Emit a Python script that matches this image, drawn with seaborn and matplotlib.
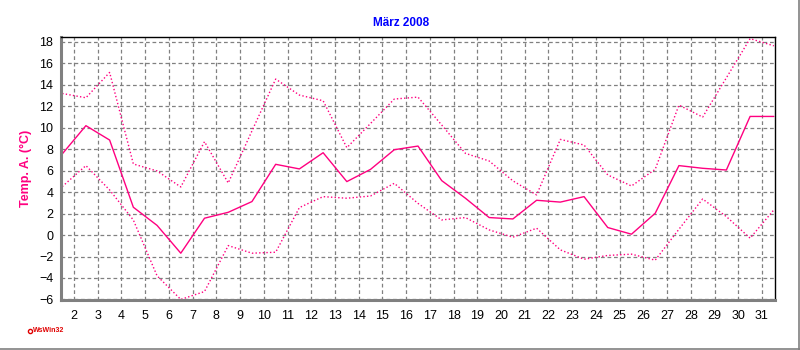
import numpy as np
import pandas as pd
import matplotlib
matplotlib.use("Agg")
import matplotlib.pyplot as plt
from matplotlib.ticker import MultipleLocator, FixedLocator
from matplotlib.lines import Line2D
import seaborn as sns

# ---- data ----
days = list(range(1, 32))
temp_max = [13.19, 12.79, 15.15, 6.62, 5.97, 4.48, 8.70, 4.85, 9.7, 14.53,
            13.04, 12.51, 8.14, 10.4, 12.67, 12.85, 10.25, 7.61, 6.9, 5.05,
            3.74, 8.91, 8.39, 5.6, 4.57, 6.12, 12.11, 10.99, 14.65, 18.3, 17.63]
temp_mean = [7.55, 10.19, 8.85, 2.59, 0.9, -1.69, 1.57, 2.12, 3.12, 6.59,
             6.16, 7.67, 4.98, 6.12, 7.95, 8.29, 5.07, 3.43, 1.63, 1.5,
             3.24, 3.07, 3.58, 0.7, 0.08, 2.03, 6.47, 6.22, 6.06, 11.05, 11.05]
temp_min = [4.51, 6.47, 4.2, 1.4, -3.8, -6.0, -5.26, -0.98, -1.69, -1.6,
            2.56, 3.58, 3.43, 3.64, 4.82, 2.95, 1.41, 1.63, 0.48, -0.2,
            0.64, -1.38, -2.25, -1.9, -1.78, -2.34, 0.54, 3.36, 1.72, -0.29, 2.34]
x_tick_days = list(range(2, 32))
title_text = "März 2008"
ylabel_text = "Temp. A. (°C)"
logo_text = "WsWin32"

sns.set_style("white")
plt.rcParams['font.family'] = ['Liberation Sans', 'DejaVu Sans']

df = pd.DataFrame({"day": days, "max": temp_max, "mean": temp_mean, "min": temp_min})
df["x"] = df["day"] + 0.5  # daily values centred between day ticks

pink = "#FF0080"
grey = "#808080"

fig = plt.figure(figsize=(8, 3.5), dpi=100)
fig.patch.set_facecolor("white")
ax = fig.add_axes([61 / 800, 50 / 350, 714 / 800, 263 / 350])

sns.lineplot(data=df, x="x", y="max", ax=ax, color=pink, lw=1.0,
             linestyle=(0, (1, 1.6)))
sns.lineplot(data=df, x="x", y="mean", ax=ax, color=pink, lw=1.0)
sns.lineplot(data=df, x="x", y="min", ax=ax, color=pink, lw=1.0,
             linestyle=(0, (1, 1.6)))

ax.set_xlim(1.45, 31.55)
ax.set_ylim(-6.05, 18.45)
ax.xaxis.set_major_locator(FixedLocator(x_tick_days))
ax.set_xticklabels([str(d) for d in x_tick_days])
ax.xaxis.set_minor_locator(MultipleLocator(0.25))
ax.yaxis.set_major_locator(MultipleLocator(2))
ax.yaxis.set_minor_locator(MultipleLocator(0.5))

ax.grid(True, which="major", color=grey, linestyle=(0, (3, 2.2)), lw=0.9)
ax.set_axisbelow(True)

for s in ("left", "bottom"):
    ax.spines[s].set_color(grey)
    ax.spines[s].set_linewidth(2.2)
for s in ("top", "right"):
    ax.spines[s].set_color("black")
    ax.spines[s].set_linewidth(1.0)
    ax.spines[s].set_visible(True)

ax.tick_params(axis="both", which="major", direction="out", length=3,
               width=1, color=grey, labelsize=9, labelcolor="black")
ax.tick_params(axis="both", which="minor", direction="out", length=2,
               width=1, color=grey)
ax.tick_params(axis="x", which="major", pad=4)
ax.tick_params(axis="y", which="major", pad=2.5)

ax.set_xlabel("")
ax.set_ylabel(ylabel_text, color=pink, fontsize=9, fontweight="bold")
ax.yaxis.set_label_coords(-29 / 714, 0.5)

fig.text(401 / 800, 1 - 23 / 350, title_text, ha="center", va="center",
         color="#0000FF", fontsize=8.5, fontweight="bold")

fig.text(33 / 800, 1 - 331 / 350, logo_text, ha="left", va="center",
         color="#E00000", fontsize=5, fontweight="bold")
fig.add_artist(Line2D([29.5 / 800], [1 - 331 / 350], marker="o", markersize=3,
                      markerfacecolor="white", markeredgecolor="#E00000",
                      markeredgewidth=1, transform=fig.transFigure))

fig.add_artist(Line2D([799.3 / 800, 799.3 / 800], [0, 1], color=grey, lw=1.2,
                      transform=fig.transFigure))
fig.add_artist(Line2D([0, 1], [0.7 / 350, 0.7 / 350], color=grey, lw=1.2,
                      transform=fig.transFigure))

fig.savefig("out.png", dpi=100, facecolor="white")
